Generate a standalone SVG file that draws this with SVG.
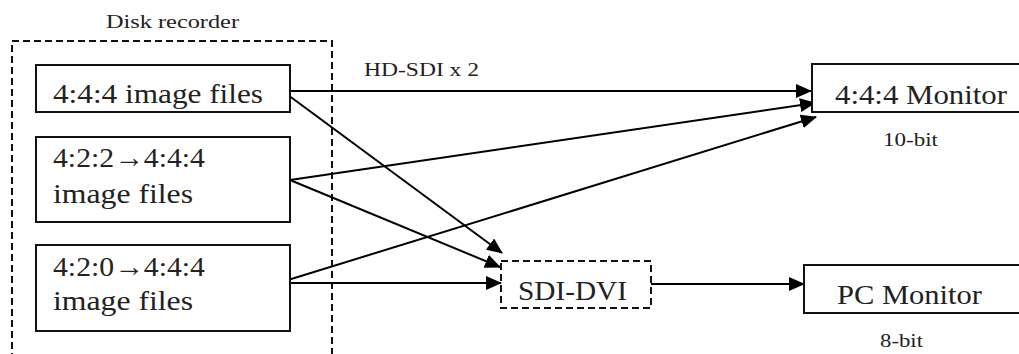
<svg xmlns="http://www.w3.org/2000/svg" width="1019" height="354" viewBox="0 0 1019 354">
<defs>
<style>
.box{fill:#fff;stroke:#111;stroke-width:2}
.dash{fill:none;stroke:#111;stroke-width:2;stroke-dasharray:7 4}
.lbl{font-family:"Liberation Serif","Times New Roman",serif;font-size:28px;fill:#222}
.sm{font-family:"Liberation Serif","Times New Roman",serif;font-size:19px;fill:#222}
.con{fill:none;stroke:#000;stroke-width:2;marker-end:url(#ah)}
</style>
<marker id="ah" markerUnits="userSpaceOnUse" markerWidth="16" markerHeight="14" viewBox="0 0 16 14" refX="15" refY="7" orient="auto">
<path d="M0,0 L16,7 L0,14 Z" fill="#000"/>
</marker>
</defs>
<rect fill="#fff" width="1019" height="354"/>
<g id="disk-recorder">
<path class="dash" d="M12,360 V41 H332 V360"/>
<text class="sm" x="106" y="28" textLength="133" lengthAdjust="spacingAndGlyphs">Disk recorder</text>
</g>
<g id="connectors">
<line class="con" x1="290" y1="91" x2="811" y2="91"/>
<line class="con" x1="288" y1="95" x2="502" y2="253"/>
<line class="con" x1="290" y1="180" x2="815" y2="103"/>
<line class="con" x1="290" y1="180" x2="500" y2="267"/>
<line class="con" x1="288" y1="280" x2="816" y2="117"/>
<line class="con" x1="290" y1="283" x2="501" y2="283"/>
<line class="con" x1="651" y1="284" x2="804" y2="284"/>
<text class="sm" x="364" y="76" textLength="115" lengthAdjust="spacingAndGlyphs">HD-SDI x 2</text>
</g>
<g id="files444">
<rect class="box" x="36" y="65" width="254" height="47"/>
<text class="lbl" x="53" y="103" textLength="210" lengthAdjust="spacingAndGlyphs">4:4:4 image files</text>
</g>
<g id="files422">
<rect class="box" x="36" y="137" width="254" height="85"/>
<text class="lbl" x="53" y="167" textLength="152" lengthAdjust="spacingAndGlyphs">4:2:2→4:4:4</text>
<text class="lbl" x="53" y="203" textLength="140" lengthAdjust="spacingAndGlyphs">image files</text>
</g>
<g id="files420">
<rect class="box" x="36" y="245" width="254" height="86"/>
<text class="lbl" x="53" y="276" textLength="152" lengthAdjust="spacingAndGlyphs">4:2:0→4:4:4</text>
<text class="lbl" x="53" y="310" textLength="140" lengthAdjust="spacingAndGlyphs">image files</text>
</g>
<g id="sdi-dvi">
<rect class="dash" x="501" y="261" width="150" height="47" fill="#fff"/>
<text class="lbl" x="518" y="300" textLength="109" lengthAdjust="spacingAndGlyphs">SDI-DVI</text>
</g>
<g id="monitor444">
<path class="box" d="M1019,64 H812 V112 H1019"/>
<text class="lbl" x="835" y="104" textLength="172" lengthAdjust="spacingAndGlyphs">4:4:4 Monitor</text>
<text class="sm" x="883" y="146" textLength="55" lengthAdjust="spacingAndGlyphs">10-bit</text>
</g>
<g id="pc-monitor">
<path class="box" d="M1019,265 H804 V313 H1019"/>
<text class="lbl" x="837" y="304" textLength="145" lengthAdjust="spacingAndGlyphs">PC Monitor</text>
<text class="sm" x="880" y="347" textLength="43" lengthAdjust="spacingAndGlyphs">8-bit</text>
</g>
</svg>
